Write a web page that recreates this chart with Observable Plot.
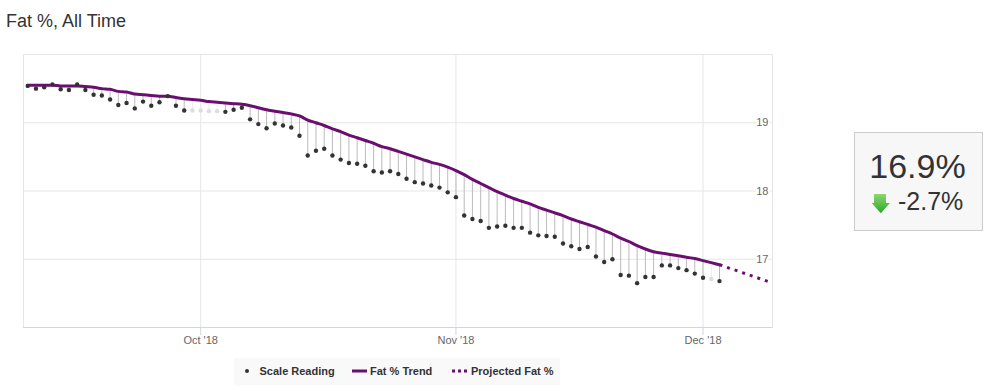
<!DOCTYPE html>
<html>
<head>
<meta charset="utf-8">
<script src="https://cdn.jsdelivr.net/npm/d3@7"></script>
<script src="https://cdn.jsdelivr.net/npm/@observablehq/plot@0.6"></script>
<style>
  html, body { margin: 0; padding: 0; background: #fff; }
  #wrap { position: relative; width: 999px; height: 386px; overflow: hidden; font-family: "Liberation Sans", Arial, sans-serif; }
  #title { position: absolute; left: 6px; top: 11.5px; font-size: 18px; line-height: 18px; color: #333; white-space: nowrap; }
  #chart { position: absolute; left: 0; top: 0; }
  #legend { position: absolute; left: 234px; top: 358px; }
  #stat { position: absolute; left: 854px; top: 132px; }
</style>
</head>
<body>
<div id="wrap">
  <div id="chart"></div>
  <div id="title">Fat %, All Time</div>
  <svg id="legend" width="326" height="27" font-family="Liberation Sans, Arial, sans-serif">
    <rect x="0" y="0" width="326" height="27" fill="#f9f9f9"></rect>
    <circle cx="13" cy="13" r="2" fill="#333"></circle>
    <text x="25.5" y="17" font-size="11" font-weight="bold" fill="#333">Scale Reading</text>
    <line x1="118" x2="133" y1="13" y2="13" stroke="#6a0f70" stroke-width="3"></line>
    <text x="136" y="17" font-size="11" font-weight="bold" fill="#333">Fat % Trend</text>
    <line x1="218" x2="233" y1="13" y2="13" stroke="#6a0f70" stroke-width="3" stroke-dasharray="3,3"></line>
    <text x="237" y="17" font-size="11" font-weight="bold" fill="#333">Projected Fat %</text>
  </svg>
  <svg id="stat" width="129" height="99" font-family="Liberation Sans, Arial, sans-serif">
    <defs>
      <linearGradient id="g" x1="0" y1="0" x2="0" y2="1">
        <stop offset="0" stop-color="#8cd86e"></stop>
        <stop offset="1" stop-color="#2ea52e"></stop>
      </linearGradient>
    </defs>
    <rect x="0.5" y="0.5" width="128" height="98" fill="#f7f7f7" stroke="#cccccc"></rect>
    <text x="63.5" y="46" font-size="34" text-anchor="middle" fill="#333">16.9%</text>
    <path d="M20,62 H32 V71 H36 L26.8,81.3 L17.7,71 H20 Z" fill="url(#g)"></path>
    <text x="44" y="78" font-size="25" fill="#333">-2.7%</text>
  </svg>
</div>
<script>
// ---- data ----
const days = ["09-10","09-11","09-12","09-13","09-14","09-15","09-16","09-17","09-18","09-19",
  "09-20","09-21","09-22","09-23","09-24","09-25","09-26","09-27","09-28","09-29",
  "09-30","10-01","10-02","10-03","10-04","10-05","10-06","10-07","10-08","10-09",
  "10-10","10-11","10-12","10-13","10-14","10-15","10-16","10-17","10-18","10-19",
  "10-20","10-21","10-22","10-23","10-24","10-25","10-26","10-27","10-28","10-29",
  "10-30","10-31","11-01","11-02","11-03","11-04","11-05","11-06","11-07","11-08",
  "11-09","11-10","11-11","11-12","11-13","11-14","11-15","11-16","11-17","11-18",
  "11-19","11-20","11-21","11-22","11-23","11-24","11-25","11-26","11-27","11-28",
  "11-29","11-30","12-01","12-02","12-03"];
const readings = [19.54,19.50,19.52,19.56,19.49,19.48,19.56,19.48,19.41,19.40,
  19.34,19.26,19.29,19.21,19.31,19.25,19.30,19.39,19.25,19.18,
  19.18,19.18,19.17,19.17,19.16,19.19,19.22,19.05,18.98,18.92,
  18.99,18.96,18.93,18.81,18.52,18.59,18.62,18.52,18.46,18.41,
  18.40,18.37,18.29,18.27,18.29,18.25,18.18,18.13,18.11,18.08,
  18.05,17.98,17.91,17.64,17.59,17.56,17.46,17.48,17.49,17.46,
  17.46,17.39,17.35,17.34,17.33,17.23,17.19,17.15,17.18,17.04,
  16.96,17.00,16.77,16.76,16.65,16.74,16.74,16.91,16.91,16.87,
  16.84,16.79,16.73,16.71,16.68];
const trend = [19.55,19.55,19.55,19.55,19.54,19.54,19.54,19.53,19.52,19.50,
  19.49,19.46,19.45,19.42,19.41,19.40,19.39,19.39,19.37,19.35,
  19.34,19.33,19.31,19.30,19.29,19.28,19.27,19.25,19.22,19.19,
  19.17,19.15,19.13,19.10,19.04,19.00,18.96,18.91,18.87,18.82,
  18.78,18.74,18.70,18.65,18.62,18.58,18.54,18.50,18.46,18.42,
  18.39,18.35,18.30,18.24,18.17,18.11,18.05,17.99,17.94,17.89,
  17.85,17.81,17.76,17.72,17.68,17.64,17.59,17.55,17.51,17.47,
  17.42,17.37,17.31,17.26,17.20,17.15,17.11,17.09,17.07,17.05,
  17.03,17.01,16.98,16.95,16.92];
const missingDays = ["09-30","10-01","10-02","10-03","12-02"];
const projDays = ["12-03","12-09"];
const projValues = [16.92, 16.67];
const yTicks = [17, 18, 19];
const xTicks = ["10-01","11-01","12-01"];

// ---- build tables ----
const toDate = md => new Date("2018-" + md + "T00:00:00Z");
const data = days.map((md, i) => ({
  date: toDate(md), reading: readings[i], trend: trend[i], missing: missingDays.includes(md)
}));
const proj = projDays.map((md, i) => ({date: toDate(md), value: projValues[i]}));
const xTickDates = xTicks.map(toDate);

const purple = "#6a0f70";

const chart = Plot.plot({
  width: 999,
  height: 386,
  marginLeft: 23,
  marginRight: 227,
  marginTop: 54,
  marginBottom: 59,
  style: {fontFamily: "Liberation Sans, Arial, sans-serif", background: "transparent"},
  x: {type: "utc", domain: [new Date("2018-09-09T11:40:00Z"), new Date("2018-12-09T10:30:00Z")]},
  y: {domain: [16, 20]},
  marks: [
    Plot.ruleY(yTicks, {stroke: "#e6e6e6", strokeWidth: 1}),
    Plot.ruleX(xTickDates, {stroke: "#e6e6e6", strokeWidth: 1}),
    Plot.frame({stroke: "#e6e6e6"}),
    Plot.ruleY([16], {stroke: "#ccd6eb"}),
    Plot.axisX(xTickDates, {
      tickSize: 8, tickPadding: 1, stroke: "#ccd6eb", fill: "#666", fontSize: 11,
      tickFormat: d3.utcFormat("%b '%y"), label: null
    }),
    Plot.axisY({ticks: [], label: null}),
    Plot.ruleX(data, {x: "date", y1: "reading", y2: "trend",
      stroke: d => d.missing ? "#ececec" : "#bbbbbb", strokeWidth: 1}),
    Plot.line(data, {x: "date", y: "trend", stroke: purple, strokeWidth: 3, curve: "monotone-x"}),
    Plot.line(proj, {x: "date", y: "value", stroke: purple, strokeWidth: 3,
      strokeDasharray: "3,5", strokeLinecap: "butt"}),
    Plot.dot(data, {x: "date", y: "reading", r: 2.2, fill: d => d.missing ? "#dddddd" : "#333333", stroke: null}),
    Plot.text(yTicks, {y: d => d, frameAnchor: "right", dx: -4, text: d => String(d),
      textAnchor: "end", fill: "#666", fontSize: 11, stroke: "white", strokeWidth: 4})
  ]
});
document.getElementById("chart").appendChild(chart);
</script>
</body>
</html>
